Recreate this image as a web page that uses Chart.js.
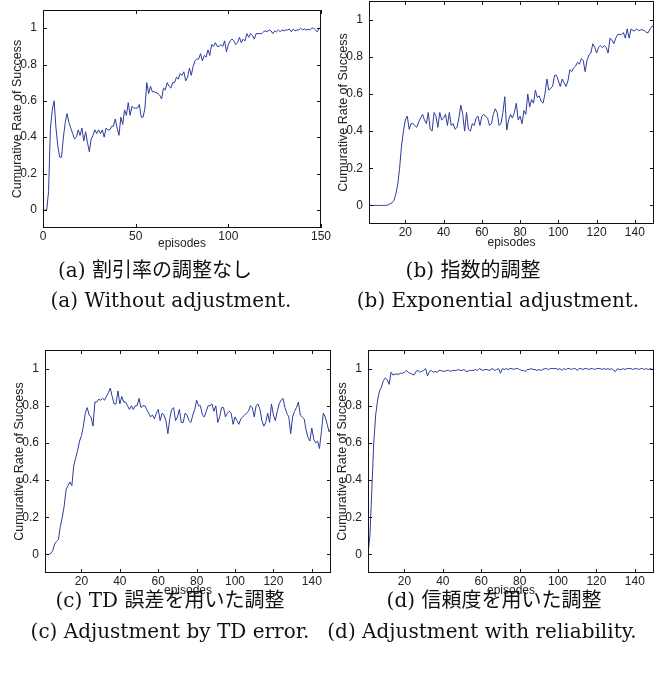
<!DOCTYPE html>
<html>
<head>
<meta charset="utf-8">
<script src="https://cdn.jsdelivr.net/npm/chart.js@4.4.1/dist/chart.umd.min.js"></script>
<style>
  body { margin: 0; background: #fff; width: 672px; height: 675px; position: relative; overflow: hidden; }
  canvas { position: absolute; }
  .cap { position: absolute; white-space: nowrap; transform: translateX(-50%); color: #111; line-height: 1; }
  .cap.en, .cap.jp { font-family: "DejaVu Serif", serif; font-size: 20px; }
  .cap .cjk { font-family: "Noto Sans CJK JP", sans-serif; font-size: 20px; }
</style>
</head>
<body>
<canvas id="chartA"></canvas>
<canvas id="chartB"></canvas>
<canvas id="chartC"></canvas>
<canvas id="chartD"></canvas>

<div class="cap jp" style="left:155px;top:259px">(a) <span class="cjk">割引率の調整なし</span></div>
<div class="cap en" style="left:171px;top:290px">(a) Without adjustment.</div>
<div class="cap jp" style="left:473px;top:259px">(b) <span class="cjk">指数的調整</span></div>
<div class="cap en" style="left:498px;top:290px">(b) Exponential adjustment.</div>
<div class="cap jp" style="left:170px;top:589px">(c) TD <span class="cjk">誤差を用いた調整</span></div>
<div class="cap en" style="left:170px;top:621px">(c) Adjustment by TD error.</div>
<div class="cap jp" style="left:494px;top:589px">(d) <span class="cjk">信頼度を用いた調整</span></div>
<div class="cap en" style="left:482px;top:621px">(d) Adjustment with reliability.</div>

<script>
// tick values
const yTicks = [0, 0.2, 0.4, 0.6, 0.8, 1];
const xTicksA = [0, 50, 100, 150];
const xTicksB = [20, 40, 60, 80, 100, 120, 140];

// cumulative rate of success per episode (1..150)
const noAdjust = [
  0, 0, 0.1, 0.45, 0.55, 0.6, 0.45, 0.35, 0.29, 0.29,
  0.4, 0.48, 0.53, 0.48, 0.45, 0.42, 0.39, 0.40, 0.44, 0.41,
  0.45, 0.38, 0.43, 0.37, 0.32, 0.39, 0.41, 0.44, 0.42, 0.44,
  0.42, 0.44, 0.40, 0.45, 0.44, 0.44, 0.46, 0.46, 0.50, 0.45,
  0.41, 0.51, 0.47, 0.55, 0.52, 0.59, 0.52, 0.57, 0.56, 0.56,
  0.56, 0.58, 0.51, 0.51, 0.56, 0.70, 0.64, 0.68, 0.65, 0.65,
  0.645, 0.64, 0.63, 0.61, 0.67, 0.66, 0.70, 0.68, 0.67, 0.70,
  0.70, 0.73, 0.72, 0.75, 0.74, 0.76, 0.71, 0.73, 0.78, 0.74,
  0.79, 0.82, 0.83, 0.83, 0.86, 0.82, 0.85, 0.84, 0.88, 0.85,
  0.91, 0.90, 0.92, 0.90, 0.90, 0.91, 0.90, 0.93, 0.87, 0.91,
  0.93, 0.94, 0.93, 0.91, 0.92, 0.95, 0.92, 0.94, 0.93, 0.97,
  0.95, 0.97, 0.96, 0.94, 0.97, 0.97, 0.97, 0.97, 0.98, 0.985,
  0.98, 0.99, 0.985, 0.97, 0.985, 0.98, 0.99, 0.98, 0.99, 0.985,
  0.99, 0.99, 0.995, 0.98, 0.995, 0.985, 0.99, 0.99, 1.0, 0.99,
  0.995, 0.99, 0.995, 0.99, 1.0, 1.0, 0.99, 0.98, 1.0, 1.0
];

const expAdjust = [
  0, 0, 0, 0, 0, 0, 0, 0, 0, 0,
  0.003, 0.008, 0.015, 0.025, 0.06, 0.11, 0.2, 0.32, 0.40, 0.46,
  0.48, 0.41, 0.44, 0.44, 0.43, 0.42, 0.45, 0.47, 0.49, 0.46,
  0.44, 0.50, 0.41, 0.40, 0.50, 0.48, 0.42, 0.50, 0.46, 0.47,
  0.49, 0.43, 0.50, 0.43, 0.44, 0.41, 0.42, 0.47, 0.54, 0.49,
  0.40, 0.50, 0.41, 0.40, 0.44, 0.43, 0.47, 0.48, 0.43, 0.48,
  0.49, 0.48, 0.47, 0.43, 0.44, 0.49, 0.52, 0.50, 0.43, 0.44,
  0.50, 0.585, 0.405, 0.46, 0.49, 0.47, 0.50, 0.55, 0.46, 0.48,
  0.44, 0.51, 0.49, 0.60, 0.53, 0.57, 0.55, 0.62, 0.58, 0.59,
  0.56, 0.55, 0.60, 0.68, 0.62, 0.63, 0.64, 0.70, 0.70, 0.67,
  0.64, 0.68, 0.66, 0.64, 0.67, 0.73, 0.72, 0.74, 0.75, 0.77,
  0.76, 0.79, 0.78, 0.72, 0.78, 0.81, 0.82, 0.87, 0.85, 0.82,
  0.85, 0.86, 0.85, 0.86, 0.85, 0.82, 0.90, 0.89, 0.87, 0.90,
  0.92, 0.92, 0.92, 0.93, 0.90, 0.95, 0.90, 0.95, 0.94, 0.94,
  0.95, 0.94, 0.945, 0.945, 0.94, 0.93, 0.93, 0.95, 0.965, 0.96
];

const tdAdjust = [
  0, 0, 0, 0.005, 0.02, 0.055, 0.07, 0.08, 0.15, 0.2,
  0.26, 0.35, 0.37, 0.39, 0.37, 0.48, 0.52, 0.56, 0.61, 0.64,
  0.69, 0.76, 0.79, 0.75, 0.74, 0.69, 0.82, 0.82, 0.835, 0.83,
  0.84, 0.83, 0.85, 0.87, 0.895, 0.85, 0.81, 0.81, 0.88, 0.81,
  0.85, 0.82, 0.82, 0.80, 0.78, 0.80, 0.78, 0.80, 0.80, 0.84,
  0.79, 0.80, 0.80, 0.78, 0.76, 0.74, 0.75, 0.73, 0.76, 0.78,
  0.72, 0.76, 0.75, 0.72, 0.65, 0.73, 0.78, 0.79, 0.72, 0.74,
  0.78, 0.71, 0.71, 0.76, 0.75, 0.72, 0.71, 0.75, 0.78, 0.83,
  0.80, 0.80, 0.75, 0.74, 0.77, 0.80, 0.80, 0.81, 0.77, 0.80,
  0.71, 0.74, 0.79, 0.79, 0.74, 0.76, 0.77, 0.76, 0.70, 0.74,
  0.72, 0.70, 0.73, 0.74, 0.75, 0.76, 0.77, 0.80, 0.79, 0.74,
  0.80, 0.81, 0.78, 0.72, 0.69, 0.71, 0.76, 0.71, 0.81, 0.75,
  0.72, 0.77, 0.81, 0.83, 0.84, 0.79, 0.76, 0.74, 0.65, 0.74,
  0.77, 0.79, 0.82, 0.75, 0.74, 0.73, 0.67, 0.63, 0.61, 0.68,
  0.62, 0.60, 0.61, 0.57, 0.66, 0.76, 0.74, 0.70, 0.66, 0.68
];

const reliabilityAdjust = [
  0, 0.1, 0.35, 0.6, 0.75, 0.83, 0.88, 0.9, 0.935, 0.95,
  0.94, 0.915, 0.98, 0.965, 0.97, 0.97, 0.97, 0.975, 0.975, 0.98,
  0.99, 0.98, 0.975, 0.97, 0.965, 0.985, 0.99, 0.98, 0.985, 0.99,
  1.0, 0.96, 0.985, 0.99, 0.98, 0.985, 0.98, 0.99, 0.99, 0.985,
  0.985, 0.99, 0.99, 0.985, 0.99, 0.99, 0.99, 0.995, 0.99, 0.99,
  0.995, 0.985, 0.985, 0.99, 0.99, 0.99, 0.995, 0.99, 1.0, 0.995,
  0.99, 0.995, 0.995, 0.99, 0.995, 1.0, 0.99, 0.995, 1.0, 0.975,
  1.0, 0.995, 1.0, 0.995, 1.0, 1.0, 0.995, 1.0, 1.0, 0.995,
  0.99, 0.99, 0.985, 0.995, 0.995, 1.0, 0.995, 0.995, 0.99, 0.995,
  0.99, 0.995, 1.0, 1.0, 0.995, 1.0, 1.0, 1.0, 1.0, 0.995,
  1.0, 0.99, 1.0, 0.995, 1.0, 1.0, 0.995, 1.0, 1.0, 0.99,
  1.0, 1.0, 0.995, 1.0, 1.0, 0.995, 1.0, 1.0, 0.995, 1.0,
  1.0, 1.0, 0.995, 1.0, 0.995, 1.0, 0.995, 1.0, 0.99, 0.985,
  1.0, 0.995, 0.995, 1.0, 0.995, 1.0, 1.0, 1.0, 0.995, 1.0,
  1.0, 0.995, 1.0, 1.0, 0.995, 1.0, 0.995, 1.0, 0.995, 1.0
];

const LINE_COLOR = '#2c3c9c';
const TEXT_COLOR = '#222';
const Y_AXIS_W = 43;
const PAD_TOP = 2;
const PAD_RIGHT = 14;
const PAD_BOTTOM = 2;

// MATLAB style box with inward ticks on all four sides
const boxTicks = {
  id: 'boxTicks',
  afterDraw(chart) {
    const { ctx, chartArea: a, scales: { x, y } } = chart;
    ctx.save();
    ctx.strokeStyle = '#111';
    ctx.lineWidth = 1;
    ctx.beginPath();
    x.ticks.forEach(t => {
      const px = Math.round(x.getPixelForValue(t.value)) + 0.5;
      ctx.moveTo(px, a.bottom); ctx.lineTo(px, a.bottom - 4);
      ctx.moveTo(px, a.top); ctx.lineTo(px, a.top + 4);
    });
    y.ticks.forEach(t => {
      const py = Math.round(y.getPixelForValue(t.value)) + 0.5;
      ctx.moveTo(a.left, py); ctx.lineTo(a.left + 4, py);
      ctx.moveTo(a.right, py); ctx.lineTo(a.right - 4, py);
    });
    ctx.stroke();
    ctx.strokeRect(a.left + 0.5, a.top + 0.5, a.right - a.left - 1, a.bottom - a.top - 1);
    ctx.restore();
  }
};

function makeChart(id, box, series, xMin, xMax, xTicks) {
  const canvas = document.getElementById(id);
  const w = Y_AXIS_W + (box.r - box.l) + PAD_RIGHT;
  const h = PAD_TOP + (box.b - box.t) + box.xh + PAD_BOTTOM;
  canvas.width = w;
  canvas.height = h;
  canvas.style.left = (box.l - Y_AXIS_W) + 'px';
  canvas.style.top = (box.t - PAD_TOP) + 'px';
  canvas.style.width = w + 'px';
  canvas.style.height = h + 'px';

  const font = { family: 'Liberation Sans', size: 12 };
  return new Chart(canvas.getContext('2d'), {
    type: 'line',
    data: {
      datasets: [{
        data: series.map((v, i) => ({ x: i + 1, y: v })),
        borderColor: LINE_COLOR,
        borderWidth: 1,
        pointRadius: 0,
        tension: 0,
        fill: false
      }]
    },
    options: {
      responsive: false,
      animation: false,
      devicePixelRatio: 1,
      layout: { padding: { top: PAD_TOP, right: PAD_RIGHT, bottom: PAD_BOTTOM, left: 0 } },
      plugins: { legend: { display: false }, tooltip: { enabled: false } },
      scales: {
        x: {
          type: 'linear',
          min: xMin,
          max: xMax,
          afterBuildTicks: s => { s.ticks = xTicks.map(v => ({ value: v })); },
          afterFit: s => { s.height = box.xh; s.paddingLeft = 0; s.paddingRight = 0; },
          grid: { display: false, drawTicks: false },
          border: { display: false },
          ticks: { padding: 1, maxRotation: 0, autoSkip: false, color: TEXT_COLOR, font },
          title: { display: true, text: 'episodes', color: TEXT_COLOR, font, padding: { top: 0, bottom: 2 } }
        },
        y: {
          type: 'linear',
          min: -0.1,
          max: 1.1,
          afterBuildTicks: s => { s.ticks = yTicks.map(v => ({ value: v })); },
          afterFit: s => { s.width = Y_AXIS_W; s.paddingTop = 0; s.paddingBottom = 0; },
          grid: { display: false, drawTicks: false },
          border: { display: false },
          ticks: { padding: 6, color: TEXT_COLOR, font, callback: v => String(+v.toFixed(1)) },
          title: { display: true, text: 'Cumurative Rate of Success', color: TEXT_COLOR, font: { family: 'Liberation Sans', size: 12.5 }, padding: { top: 10, bottom: 0 } }
        }
      }
    },
    plugins: [boxTicks]
  });
}

makeChart('chartA', { l: 43, r: 321, t: 10, b: 228, xh: 25 }, noAdjust, 0, 150, xTicksA);
makeChart('chartB', { l: 369, r: 654, t: 1, b: 224, xh: 28 }, expAdjust, 1, 150, xTicksB);
makeChart('chartC', { l: 45, r: 331, t: 350, b: 573, xh: 27 }, tdAdjust, 1, 150, xTicksB);
makeChart('chartD', { l: 368, r: 654, t: 350, b: 573, xh: 27 }, reliabilityAdjust, 1, 150, xTicksB);
</script>
</body>
</html>
